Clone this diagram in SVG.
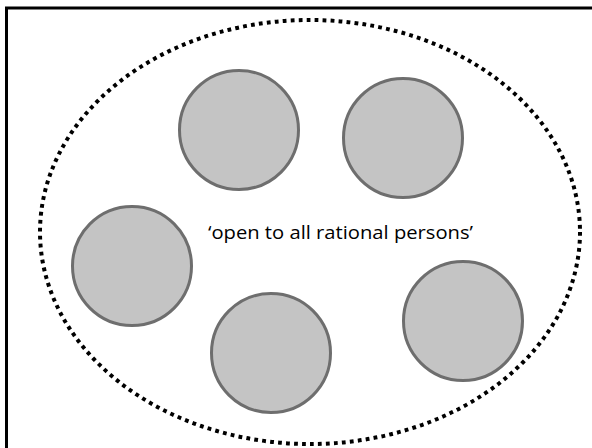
<svg xmlns="http://www.w3.org/2000/svg" width="592" height="448" viewBox="0 0 592 448">
<style>
.p{fill:#c4c4c4;stroke:#6e6e6e;stroke-width:3}
.t{font-family:"Open Sans","Liberation Sans",sans-serif;font-size:18.5px;fill:#000}
</style>
<rect x="0" y="0" width="592" height="448" fill="#fff"/>
<rect id="frame" x="6.5" y="8" width="600" height="460" fill="none" stroke="#000" stroke-width="3"/>
<g id="connectors"></g>
<g id="boundary"><ellipse cx="310" cy="232" rx="270" ry="212" fill="none" stroke="#000" stroke-width="4" stroke-dasharray="3.8 4.2"/></g>
<g id="n1"><circle class="p" cx="239" cy="130" r="59.5"/></g>
<g id="n2"><circle class="p" cx="403" cy="138" r="59.5"/></g>
<g id="n3"><circle class="p" cx="132" cy="266" r="59.5"/></g>
<g id="n4"><circle class="p" cx="271" cy="353" r="59.5"/></g>
<g id="n5"><circle class="p" cx="463" cy="321" r="59.5"/></g>
<g id="label"><text class="t" x="208" y="239" textLength="265" lengthAdjust="spacingAndGlyphs">‘open to all rational persons’</text></g>
</svg>
